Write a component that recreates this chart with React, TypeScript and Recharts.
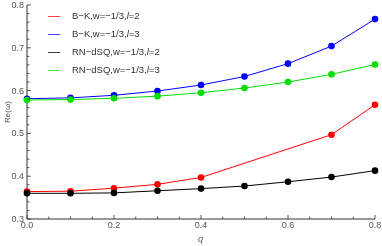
import { LineChart, Line, XAxis, YAxis } from 'recharts';

const qValues = [0, 0.1, 0.2, 0.3, 0.4, 0.5, 0.6, 0.7, 0.8];
// B-K, l=2 has no points at q = 0.5 and 0.6
const bkL2 = [0.364, 0.365, 0.372, 0.381, 0.397, null, null, 0.497, 0.567];
const bkL3 = [0.581, 0.583, 0.589, 0.599, 0.613, 0.633, 0.663, 0.704, 0.767];
const rnL2 = [0.36, 0.36, 0.361, 0.366, 0.371, 0.377, 0.387, 0.398, 0.413];
const rnL3 = [0.578, 0.579, 0.582, 0.587, 0.595, 0.606, 0.62, 0.638, 0.661];

const xTicks = [0, 0.05, 0.1, 0.15, 0.2, 0.25, 0.3, 0.35, 0.4, 0.45, 0.5, 0.55, 0.6, 0.65, 0.7, 0.75, 0.8];
const xMajor = [0, 0.2, 0.4, 0.6, 0.8];
const yTicks = [0.3, 0.32, 0.34, 0.36, 0.38, 0.4, 0.42, 0.44, 0.46, 0.48, 0.5, 0.52, 0.54, 0.56, 0.58, 0.6, 0.62, 0.64, 0.66, 0.68, 0.7, 0.72, 0.74, 0.76, 0.78, 0.8];
const yMajor = [0.3, 0.4, 0.5, 0.6, 0.7, 0.8];

const series = [
  { key: 'bkL2', name: 'B−K,w=−1/3,', l: '2', color: '#ff0000', values: bkL2 },
  { key: 'bkL3', name: 'B−K,w=−1/3,', l: '3', color: '#0000ff', values: bkL3 },
  { key: 'rnL2', name: 'RN−dSQ,w=−1/3,', l: '2', color: '#000000', values: rnL2 },
  { key: 'rnL3', name: 'RN−dSQ,w=−1/3,', l: '3', color: '#00e000', values: rnL3 },
];

const data = qValues.map((q, i) => {
  const row: Record<string, number | null> = { q };
  series.forEach(s => { row[s.key] = s.values[i]; });
  return row;
});

const FONT = '"Liberation Sans", Arial, sans-serif';
const TEXT = '#555';

const BottomTick = ({ x, y, payload }: any) => {
  const major = xMajor.includes(payload.value);
  return (
    <g>
      <line x1={x} x2={x} y1={y} y2={y - (major ? 4 : 2.5)} stroke="#333" strokeWidth={0.8} />
      {major && (
        <text x={x} y={y + 9} textAnchor="middle" fontSize={9} fill={TEXT} fontFamily={FONT}>
          {payload.value.toFixed(1)}
        </text>
      )}
    </g>
  );
};

const TopTick = ({ x, y, payload }: any) => {
  const major = xMajor.includes(payload.value);
  return <line x1={x} x2={x} y1={y} y2={y + (major ? 4 : 2.5)} stroke="#333" strokeWidth={0.8} />;
};

const LeftTick = ({ x, y, payload }: any) => {
  const major = yMajor.includes(payload.value);
  return (
    <g>
      <line x1={x} x2={x + (major ? 4 : 2.5)} y1={y} y2={y} stroke="#333" strokeWidth={0.8} />
      {major && (
        <text x={x - 3} y={y + 3} textAnchor="end" fontSize={9} fill={TEXT} fontFamily={FONT}>
          {payload.value.toFixed(1)}
        </text>
      )}
    </g>
  );
};

const RightTick = ({ x, y, payload }: any) => {
  const major = yMajor.includes(payload.value);
  return <line x1={x} x2={x - (major ? 4 : 2.5)} y1={y} y2={y} stroke="#333" strokeWidth={0.8} />;
};

export default function App() {
  return (
    <div style={{ position: 'fixed', left: 0, top: 0, width: 382, height: 246, fontFamily: FONT }}>
      <LineChart
        width={382}
        height={246}
        data={data}
        margin={{ top: 5, right: 7, bottom: 0, left: 0 }}
        style={{ overflow: 'visible' }}
      >
        <XAxis
          dataKey="q"
          type="number"
          domain={[0, 0.8]}
          ticks={xTicks}
          interval={0}
          height={27}
          tickSize={0}
          tickMargin={0}
          tick={<BottomTick />}
          axisLine={{ stroke: '#333' }}
        />
        <XAxis
          xAxisId="top"
          orientation="top"
          dataKey="q"
          type="number"
          domain={[0, 0.8]}
          ticks={xTicks}
          interval={0}
          height={0}
          tickSize={0}
          tickMargin={0}
          tick={<TopTick />}
          axisLine={{ stroke: '#333' }}
        />
        <YAxis
          type="number"
          domain={[0.3, 0.8]}
          ticks={yTicks}
          interval={0}
          width={27}
          tickSize={0}
          tickMargin={0}
          tick={<LeftTick />}
          axisLine={{ stroke: '#333' }}
        />
        <YAxis
          yAxisId="right"
          orientation="right"
          type="number"
          domain={[0.3, 0.8]}
          ticks={yTicks}
          interval={0}
          width={0}
          tickSize={0}
          tickMargin={0}
          tick={<RightTick />}
          axisLine={{ stroke: '#333' }}
        />
        {series.map(s => (
          <Line
            key={s.key}
            dataKey={s.key}
            stroke={s.color}
            strokeWidth={1}
            connectNulls
            dot={{ r: 3.3, fill: s.color, stroke: s.color, strokeWidth: 0 }}
            activeDot={false}
            isAnimationActive={false}
          />
        ))}
      </LineChart>
      <div
        style={{
          position: 'absolute',
          left: 8,
          top: 112,
          transform: 'translate(-50%, -50%) rotate(-90deg)',
          fontSize: 8,
          lineHeight: '10px',
          color: TEXT,
          whiteSpace: 'nowrap',
        }}
      >
        Re(ω)
      </div>
      <div
        style={{
          position: 'absolute',
          left: 198,
          top: 234,
          fontSize: 9,
          lineHeight: '10px',
          fontStyle: 'italic',
          color: TEXT,
        }}
      >
        q
      </div>
      <div style={{ position: 'absolute', left: 48, top: 7 }}>
        {series.map(s => (
          <div key={s.key} style={{ display: 'flex', alignItems: 'center', height: 18 }}>
            <div style={{ width: 12, height: 1, background: s.color, opacity: 0.75, marginRight: 12 }} />
            <span style={{ fontSize: 9.5, lineHeight: '12px', color: '#333', whiteSpace: 'nowrap' }}>
              {s.name}
              <i>l</i>={s.l}
            </span>
          </div>
        ))}
      </div>
    </div>
  );
}
